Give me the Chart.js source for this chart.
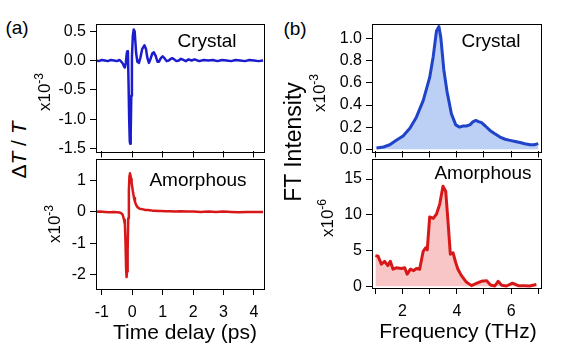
<!DOCTYPE html>
<html>
<head>
<meta charset="utf-8">
<script src="https://cdn.jsdelivr.net/npm/chart.js@4.4.1/dist/chart.umd.min.js"></script>
<style>
  body { margin: 0; background: #fff; }
  #wrap { position: relative; width: 586px; height: 349px; overflow: hidden; font-family: "Liberation Sans", Arial, sans-serif; color: #000; }
  canvas { position: absolute; }
  .lbl { position: absolute; white-space: nowrap; line-height: 1; transform: translate(-50%, -50%); }
  .rot { transform: translate(-50%, -50%) rotate(-90deg); }
  sup { font-size: 12px; vertical-align: 7px; }
</style>
</head>
<body>
<div id="wrap">
  <canvas id="timeCrystalChart" width="238" height="155" style="left:36px;top:10px;width:238px;height:155px"></canvas>
  <canvas id="timeAmorphChart" width="238" height="174" style="left:36px;top:145px;width:238px;height:174px"></canvas>
  <canvas id="ftCrystalChart" width="239" height="155" style="left:312px;top:10px;width:239px;height:155px"></canvas>
  <canvas id="ftAmorphChart" width="239" height="173" style="left:312px;top:145px;width:239px;height:173px"></canvas>

  <div class="lbl" style="left:17px;top:27px;font-size:19px">(a)</div>
  <div class="lbl" style="left:295px;top:28px;font-size:19px">(b)</div>
  <div class="lbl" style="left:207px;top:40px;font-size:19px">Crystal</div>
  <div class="lbl" style="left:491px;top:40px;font-size:19px">Crystal</div>
  <div class="lbl" style="left:198px;top:179px;font-size:19px">Amorphous</div>
  <div class="lbl" style="left:483px;top:172px;font-size:19px">Amorphous</div>
  <div class="lbl" style="left:185px;top:331px;font-size:21px">Time delay (ps)</div>
  <div class="lbl" style="left:458px;top:330px;font-size:21px">Frequency (THz)</div>
  <div class="lbl rot" style="left:18px;top:150px;font-size:21px">Δ<i>T</i> / <i>T</i></div>
  <div class="lbl rot" style="left:293px;top:142px;font-size:23px">FT Intensity</div>
  <div class="lbl rot" style="left:43px;top:92px;font-size:17px">x10<sup>-3</sup></div>
  <div class="lbl rot" style="left:53px;top:224px;font-size:17px">x10<sup>-3</sup></div>
  <div class="lbl rot" style="left:318px;top:93px;font-size:17px">x10<sup>-3</sup></div>
  <div class="lbl rot" style="left:326px;top:218px;font-size:17px">x10<sup>-6</sup></div>
</div>

<script>
// time traces (ps, x10^-3)
const timeCrystal = [-1.2, -1.1, -1.0, -0.9, -0.8, -0.7, -0.6, -0.5, -0.42, -0.36, -0.31, -0.27, -0.24, -0.21, -0.18, -0.16, -0.14, -0.12,
  -0.1, -0.08, -0.065, -0.05, -0.03, -0.01, 0.02, 0.05, 0.08, 0.1, 0.13, 0.17, 0.22, 0.27, 0.33, 0.4,
  0.45, 0.5, 0.55, 0.61, 0.66, 0.71, 0.77, 0.83, 0.88, 0.94, 1.0, 1.06, 1.13, 1.2, 1.27, 1.31, 1.38, 1.45, 1.53, 1.6,
  1.68, 1.76, 1.85, 1.95, 2.05, 2.2, 2.35, 2.5, 2.65, 2.8, 2.95, 3.1, 3.25, 3.4, 3.55, 3.7, 3.85, 4.0, 4.15, 4.3];
const dTCrystal = [0.0, -0.01, 0.01, 0.0, -0.01, 0.01, 0.0, -0.01, 0.01, -0.02, -0.05, -0.1, -0.12, -0.04, 0.12, 0.16, 0.1, -0.4,
  -1.0, -1.38, -1.42, -1.25, -0.6, 0.05, 0.42, 0.53, 0.5, 0.35, 0.12, -0.02, -0.04, 0.05, 0.2, 0.26,
  0.2, 0.04, -0.04, 0.04, 0.12, 0.14, 0.08, -0.02, -0.02, 0.04, 0.07, 0.04, -0.01, 0.0, 0.03, 0.04, 0.02, -0.01, 0.0, 0.03,
  0.01, -0.01, 0.02, 0.0, 0.02, -0.01, 0.01, 0.0, 0.01, -0.01, 0.01, 0.0, -0.01, 0.01, 0.0, -0.01, 0.01, 0.0, -0.01, 0.0];

const timeAmorph = [-1.2, -1.05, -0.9, -0.75, -0.6, -0.5, -0.42, -0.36, -0.31, -0.27, -0.24, -0.22, -0.2, -0.185, -0.17, -0.15, -0.13, -0.11,
  -0.09, -0.075, -0.06, -0.04, -0.02, 0.0, 0.03, 0.06, 0.09, 0.12, 0.16, 0.2, 0.25, 0.3, 0.36, 0.43, 0.5, 0.58, 0.66, 0.75,
  0.85, 0.95, 1.1, 1.25, 1.4, 1.6, 1.8, 2.0, 2.25, 2.5, 2.75, 3.0, 3.25, 3.5, 3.75, 4.0, 4.3];
const dTAmorph = [0.0, 0.01, 0.0, -0.01, 0.0, -0.01, -0.02, -0.04, -0.1, -0.25, -0.4, -1.0, -1.85, -2.08, -1.9, -1.2, -0.2, 0.7,
  1.15, 1.23, 1.18, 1.05, 0.92, 0.8, 0.6, 0.44, 0.33, 0.24, 0.17, 0.13, 0.1, 0.09, 0.08, 0.06, 0.06, 0.05, 0.04, 0.04,
  0.03, 0.03, 0.02, 0.02, 0.01, 0.02, 0.01, 0.01, 0.0, 0.01, 0.0, 0.01, 0.0, -0.01, 0.0, 0.0, 0.0];

// FT spectra (THz)
const freqCrystal = [1.04, 1.3, 1.53, 1.77, 2.02, 2.27, 2.51, 2.76, 3.0, 3.13, 3.25, 3.34, 3.41, 3.52, 3.64, 3.8, 3.96, 4.1, 4.23, 4.35,
  4.48, 4.6, 4.7, 4.8, 4.91, 5.05, 5.22, 5.4, 5.59, 5.78, 5.96, 6.15, 6.33, 6.5, 6.7, 6.85, 7.0];
const ftCrystal = [0.01, 0.02, 0.04, 0.08, 0.12, 0.19, 0.29, 0.44, 0.65, 0.84, 1.07, 1.11, 1.01, 0.72, 0.52, 0.32, 0.22, 0.2, 0.21, 0.21,
  0.22, 0.25, 0.26, 0.25, 0.24, 0.21, 0.17, 0.14, 0.11, 0.09, 0.08, 0.07, 0.06, 0.05, 0.04, 0.04, 0.05];

const freqAmorph = [1.0, 1.1, 1.22, 1.34, 1.46, 1.55, 1.65, 1.77, 1.96, 2.08, 2.17, 2.29, 2.41, 2.51, 2.63, 2.76, 2.85, 2.91, 3.0, 3.13,
  3.25, 3.37, 3.49, 3.59, 3.68, 3.76, 3.86, 3.96, 4.04, 4.17, 4.35, 4.54, 4.72, 4.9, 5.1, 5.24, 5.4, 5.52, 5.65, 5.83,
  6.05, 6.26, 6.5, 6.68, 6.93];
const ftAmorph = [4.3, 4.2, 3.1, 3.5, 2.9, 3.5, 2.4, 2.6, 2.5, 2.6, 1.7, 2.4, 2.2, 2.5, 2.4, 4.9, 5.4, 5.1, 9.7, 9.5,
  10.1, 11.5, 14.0, 13.3, 8.8, 4.5, 4.7, 3.3, 2.4, 1.5, 0.6, 0.1, 0.4, 0.7, 0.8, 0.2, 0.05, 0.7, 0.15, 0.05,
  0.45, 0.1, 0.1, 0.05, 0.25];

// tick labels
const timeTicks = [-1, 0, 1, 2, 3, 4];
const freqTicks = [1, 2, 3, 4, 5, 6, 7];
const freqLabels = ['', '2', '', '4', '', '6', ''];
const yTicksTimeCrystal = [-1.5, -1.0, -0.5, 0.0, 0.5];
const yTicksTimeAmorph = [-2, -1, 0, 1];
const yTicksFtCrystal = [0.0, 0.2, 0.4, 0.6, 0.8, 1.0];
const yTicksFtAmorph = [0, 5, 10, 15];

const tickFont = { family: "'Liberation Sans', Arial, sans-serif", size: 16 };

// box round the plot area
const framePlugin = {
  id: 'frame',
  afterDatasetsDraw(chart) {
    const a = chart.chartArea;
    const c = chart.ctx;
    c.save();
    c.strokeStyle = '#000';
    c.lineWidth = 1;
    c.strokeRect(Math.round(a.left) + 0.5, Math.round(a.top) + 0.5, Math.round(a.right - a.left), Math.round(a.bottom - a.top));
    c.restore();
  }
};

function toPoints(xs, ys) {
  return xs.map((x, i) => ({ x: x, y: ys[i] }));
}

function makePanel(id, opts) {
  const ctx = document.getElementById(id).getContext('2d');
  return new Chart(ctx, {
    type: 'line',
    data: {
      datasets: [{
        data: toPoints(opts.xs, opts.ys),
        borderColor: opts.color,
        backgroundColor: opts.fillColor || 'transparent',
        fill: opts.fillColor ? 'origin' : false,
        borderWidth: opts.lineWidth,
        pointRadius: 0,
        tension: 0,
        borderJoinStyle: 'round',
      }],
    },
    options: {
      responsive: false,
      animation: false,
      devicePixelRatio: 1,
      layout: { padding: { left: 0, top: 10, right: 10, bottom: opts.bottom ? 0 : 10 } },
      plugins: { legend: { display: false }, tooltip: { enabled: false } },
      scales: {
        x: {
          type: 'linear',
          min: opts.xMin,
          max: opts.xMax,
          border: { display: false },
          grid: { drawOnChartArea: false, drawTicks: true, tickLength: 6, color: '#000' },
          ticks: {
            autoSkip: false,
            maxRotation: 0,
            padding: 8,
            color: '#000',
            font: tickFont,
            callback: (v, i) => opts.bottom ? opts.xLabels[i] : '',
          },
          afterBuildTicks: s => { s.ticks = opts.xTicks.map(v => ({ value: v })); },
          afterFit: s => { s.height = opts.bottom ? 30 : 0; },
        },
        y: {
          min: opts.yMin,
          max: opts.yMax,
          border: { display: false },
          grid: { drawOnChartArea: false, drawTicks: true, tickLength: 6, color: '#000' },
          ticks: {
            padding: 4,
            color: '#000',
            font: tickFont,
            callback: v => opts.yFormat(v),
          },
          afterBuildTicks: s => { s.ticks = opts.yTicks.map(v => ({ value: v })); },
          afterFit: s => { s.width = 60; },
        },
      },
    },
    plugins: [framePlugin],
  });
}

makePanel('timeCrystalChart', {
  xs: timeCrystal, ys: dTCrystal, color: '#1c1ccf', lineWidth: 2.5,
  xMin: -1.19, xMax: 4.33, xTicks: timeTicks, xLabels: timeTicks.map(String),
  yMin: -1.55, yMax: 0.63, yTicks: yTicksTimeCrystal, yFormat: v => v.toFixed(1),
  bottom: false,
});

makePanel('timeAmorphChart', {
  xs: timeAmorph, ys: dTAmorph, color: '#d81818', lineWidth: 2.5,
  xMin: -1.19, xMax: 4.33, xTicks: timeTicks, xLabels: timeTicks.map(String),
  yMin: -2.46, yMax: 1.7, yTicks: yTicksTimeAmorph, yFormat: v => String(v),
  bottom: true,
});

makePanel('ftCrystalChart', {
  xs: freqCrystal, ys: ftCrystal, color: '#1f44c9', fillColor: '#bccff4', lineWidth: 3,
  xMin: 0.875, xMax: 7.1, xTicks: freqTicks, xLabels: freqLabels,
  yMin: -0.02, yMax: 1.137, yTicks: yTicksFtCrystal, yFormat: v => v.toFixed(1),
  bottom: false,
});

makePanel('ftAmorphChart', {
  xs: freqAmorph, ys: ftAmorph, color: '#d81818', fillColor: '#f8c6c6', lineWidth: 3,
  xMin: 0.875, xMax: 7.1, xTicks: freqTicks, xLabels: freqLabels,
  yMin: -0.23, yMax: 17.86, yTicks: yTicksFtAmorph, yFormat: v => String(v),
  bottom: true,
});
</script>
</body>
</html>
